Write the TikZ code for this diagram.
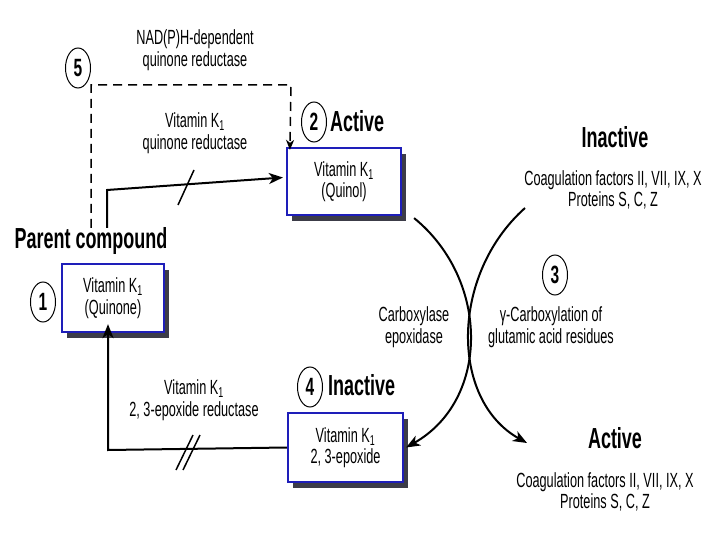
\documentclass[tikz,border=0pt]{standalone}
\usepackage{fontspec}
\setmainfont{Liberation Sans}[FakeStretch=0.62]
\usetikzlibrary{arrows.meta,shapes.geometric,shadows}
\definecolor{boxblue}{RGB}{30,30,185}
\definecolor{shadowgray}{RGB}{60,60,72}
\begin{document}
\begin{tikzpicture}[x=1pt,y=-1pt,
  every node/.style={font=\fontsize{20.5}{21.5}\selectfont, align=center, inner sep=0pt},
  compbox/.style={draw=boxblue, line width=2.2pt, fill=white,
    drop shadow={shadow xshift=5pt, shadow yshift=-6pt, fill=shadowgray, opacity=1}},
  num/.style={ellipse, draw, line width=1pt, minimum width=25pt, minimum height=40pt,
    font=\fontsize{25}{25}\selectfont\bfseries},
  head/.style={font=\fontsize{29}{30}\selectfont\bfseries},
  solidline/.style={line width=2pt},
  arr/.style={-{Stealth[length=14pt,width=11pt,inset=4pt]}},
  dashline/.style={line width=1.5pt, dash pattern=on 9pt off 6pt,
    -{Stealth[length=10pt,width=8pt,inset=3pt]}},
  slash/.style={line width=1.5pt}
]
\path[use as bounding box] (0,0) rectangle (720,540);

% compound boxes
\node[compbox, minimum width=102pt, minimum height=68pt] (b1) at (113,298) {Vitamin K\textsubscript{1}\\(Quinone)};
\node[compbox, minimum width=114pt, minimum height=67pt] (b2) at (344,181.5) {Vitamin K\textsubscript{1}\\(Quinol)};
\node[compbox, minimum width=115pt, minimum height=69pt] (b4) at (345.5,447.5) {Vitamin K\textsubscript{1}\\2, 3-epoxide};

% numbers
\node[num] (n5) at (78,68) {5};
\node[num] (n2) at (314,122) {2};
\node[num] (n1) at (43,302) {1};
\node[num] (n4) at (310,387) {4};
\node[num] (n3) at (555,275) {3};

% headings
\node[head, anchor=base] (pc) at (91,248) {Parent compound};
\node[head, anchor=base west] (act2) at (330,132) {Active};
\node[head, anchor=base west] (inact4) at (328,395) {Inactive};
\node[head, anchor=base] (inactR) at (615,148) {Inactive};
\node[head, anchor=base] (actR) at (615,448) {Active};

% labels
\node (tnad) at (195,50) {NAD(P)H-dependent\\quinone reductase};
\node (tqr) at (195,133) {Vitamin K\textsubscript{1}\\quinone reductase};
\node (ter) at (194,400) {Vitamin K\textsubscript{1}\\2, 3-epoxide reductase};
\node (tce) at (414,327) {Carboxylase\\epoxidase};
\node (tgc) at (551,327) {γ-Carboxylation of\\glutamic acid residues};
\node (tcoag1) at (613,190) {Coagulation factors II, VII, IX, X\\Proteins S, C, Z};
\node (tcoag2) at (605,492) {Coagulation factors II, VII, IX, X\\Proteins S, C, Z};

% coordinates
\coordinate (dv) at (91,228);
\coordinate (dc) at (91,85);
\coordinate (dr) at (291,85);
\coordinate (sv) at (107,228);
\coordinate (sc) at (107,190);
\coordinate (cin) at (525,208);
\coordinate (cout) at (527,443);

% dashed path (5)
\draw[dashline] (dv) -- (dc) -- (dr) -- ([xshift=4pt,yshift=-3pt]b2.north west);

% quinone reductase arrow
\draw[solidline, arr] (sv) -- (sc) -- ([yshift=4pt,xshift=-3pt]b2.west);
\draw[slash] (178,205) -- (194,170);

% epoxide reductase arrow
\draw[solidline, arr] (b4.west) -- (108,450) -- ([xshift=-5pt,yshift=9pt]b1.south);
\draw[slash] (176,470) -- (193,435);
\draw[slash] (183,470) -- (200,435);

% cycle curves
\draw[solidline, arr] ([xshift=12pt,yshift=-2pt]b2.south east) .. controls (490,280) and (490,400) .. ([xshift=2pt]b4.east);
\draw[solidline, arr] (cin) .. controls (450,275) and (450,400) .. (cout);
\end{tikzpicture}
\end{document}
